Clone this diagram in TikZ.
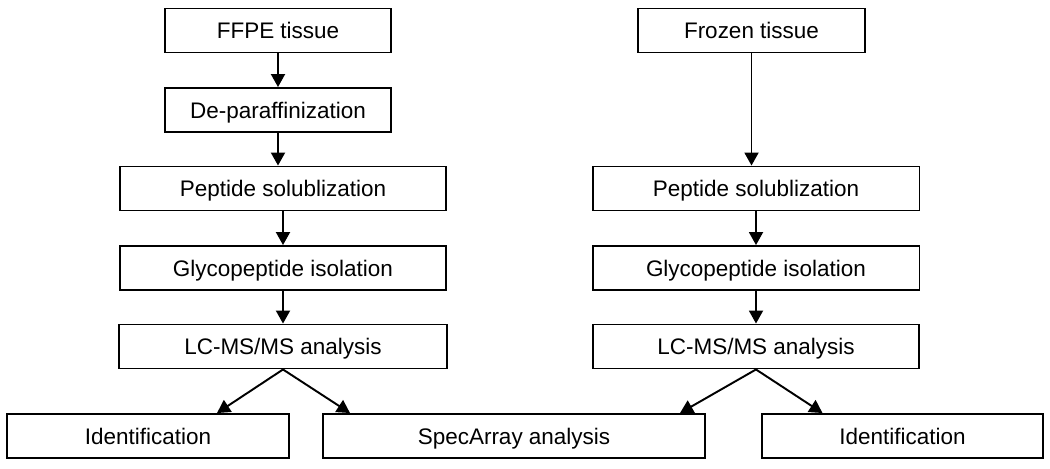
\documentclass[tikz,border=0pt]{standalone}
\usepackage{fontspec}
\setmainfont{Liberation Sans}
\usetikzlibrary{arrows.meta, calc}

\begin{document}
\begin{tikzpicture}[x=0.02cm, y=-0.02cm,
    stepbox/.style={draw, line width=1.1pt, minimum height=0.88cm, inner sep=0pt,
                    text height=9.2pt, text depth=0pt,
                    font=\fontsize{12.8}{15}\selectfont},
    arr/.style={line width=1.1pt, -{Triangle[length=0.26cm, width=0.28cm]}}]
  \useasboundingbox (0, 0) rectangle (1050, 468);

  % FFPE branch
  \node[stepbox, minimum width=4.52cm] (ffpe) at (278, 30.5) {FFPE tissue};
  \node[stepbox, minimum width=4.52cm] (deparaf) at (278, 110) {De-paraffinization};
  \node[stepbox, minimum width=6.52cm] (peptL) at (283, 188.5) {Peptide solublization};
  \node[stepbox, minimum width=6.52cm] (glycoL) at (283, 268) {Glycopeptide isolation};
  \node[stepbox, minimum width=6.56cm] (lcmsL) at (283, 346.5) {LC-MS/MS analysis};

  % frozen branch
  \node[stepbox, minimum width=4.54cm] (frozen) at (751.5, 30.5) {Frozen tissue};
  \node[stepbox, minimum width=6.54cm] (peptR) at (756, 188.5) {Peptide solublization};
  \node[stepbox, minimum width=6.54cm] (glycoR) at (756, 268) {Glycopeptide isolation};
  \node[stepbox, minimum width=6.52cm] (lcmsR) at (756, 346.5) {LC-MS/MS analysis};

  % results
  \node[stepbox, minimum width=5.64cm] (identL) at (148, 436) {Identification};
  \node[stepbox, minimum width=7.64cm] (spec) at (514, 436) {SpecArray analysis};
  \node[stepbox, minimum width=5.62cm] (identR) at (902.5, 436) {Identification};

  \draw[arr] (ffpe.south) -- (ffpe.south |- deparaf.north);
  \draw[arr] (deparaf.south) -- (deparaf.south |- peptL.north);
  \draw[arr] (peptL.south) -- (peptL.south |- glycoL.north);
  \draw[arr] (glycoL.south) -- (glycoL.south |- lcmsL.north);

  \draw[arr] (frozen.south) -- (frozen.south |- peptR.north);
  \draw[arr] (peptR.south) -- (peptR.south |- glycoR.north);
  \draw[arr] (glycoR.south) -- (glycoR.south |- lcmsR.north);

  \draw[arr] (lcmsL.south) -- ($(identL.north)+(69, 0)$);
  \draw[arr] (lcmsL.south) -- ($(spec.north)+(-164, 0)$);
  \draw[arr] (lcmsR.south) -- ($(spec.north)+(166, 0)$);
  \draw[arr] (lcmsR.south) -- ($(identR.north)+(-80, 0)$);
\end{tikzpicture}
\end{document}
